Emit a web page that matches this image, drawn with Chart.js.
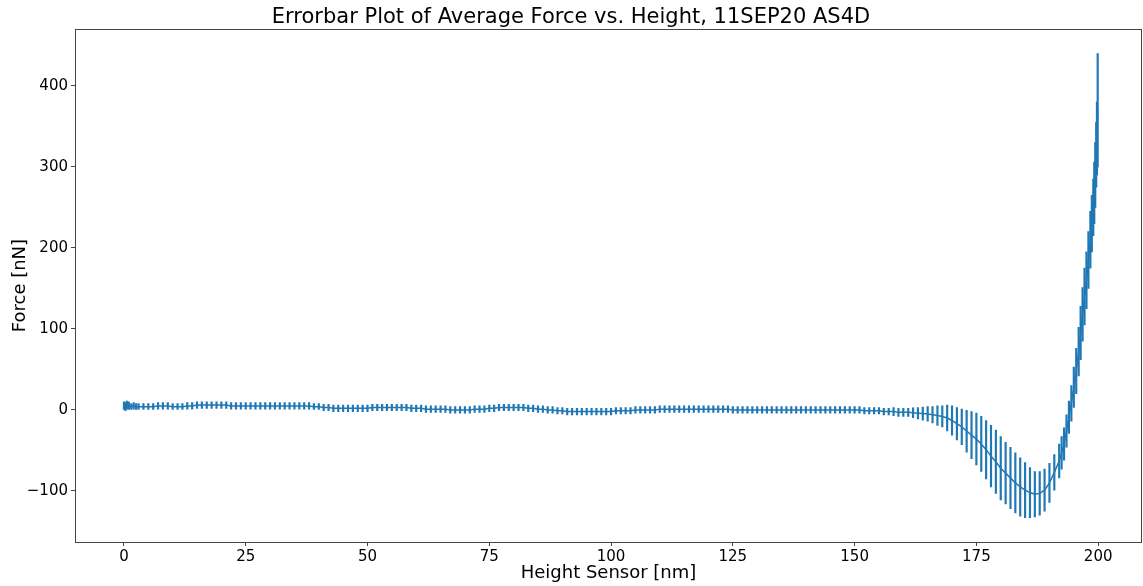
<!DOCTYPE html>
<html>
<head>
<meta charset="utf-8">
<script src="https://cdn.jsdelivr.net/npm/chart.js@4"></script>
<style>
  html, body { margin: 0; padding: 0; background: #fff; }
  #c { display: block; }
</style>
</head>
<body>
<canvas id="c" width="1143" height="586"></canvas>
<script>
// ---- data ----
const heights = [
  0, 0.3, 0.6, 1, 1.5, 2, 2.5, 3,
  4, 5, 6, 7, 8, 9, 10, 11, 12, 13, 14,
  15, 16, 17, 18, 19, 20, 21, 22, 23, 24, 25, 26, 27, 28, 29, 30, 31, 32, 33, 34, 35, 36, 37, 38,
  39, 40, 41, 42, 43, 44, 45, 46, 47,
  48, 49, 50, 51, 52, 53, 54, 55, 56, 57, 58,
  59, 60, 61, 62, 63, 64, 65, 66,
  67, 68, 69, 70, 71, 72, 73,
  74, 75, 76, 77, 78, 79, 80, 81, 82, 83, 84,
  85, 86, 87, 88, 89, 90,
  91, 92, 93, 94, 95, 96, 97, 98, 99, 100, 101, 102, 103, 104,
  105, 106, 107, 108, 109, 110, 111, 112, 113, 114, 115,
  116, 117, 118, 119, 120, 121, 122, 123, 124, 125, 126, 127, 128, 129, 130, 131, 132, 133, 134, 135, 136, 137, 138, 139, 140,
  141, 142, 143, 144, 145, 146, 147, 148, 149, 150, 151, 152,
  153, 154, 155, 156, 157, 158, 159, 160,
  161, 162, 163, 164, 165, 166, 167, 168, 169, 170, 171, 172, 173, 174, 175, 176,
  177, 178, 179, 180, 181, 182, 183, 184, 185, 186, 187, 188, 189, 190, 191, 192,
  192.5, 193, 193.5, 194, 194.5, 195, 195.5, 196, 196.4, 196.8, 197.2, 197.6,
  198, 198.4, 198.7, 199, 199.2, 199.4, 199.6, 199.75, 199.9
];
const forces = [
  5, 4, 6, 5, 4, 5, 4, 4,
  4, 4, 4, 5, 5, 5, 4, 4, 4, 5, 5,
  6, 6, 6, 6, 6, 6, 6, 5, 5, 5, 5, 5, 5, 5, 5, 5, 5, 5, 5, 5, 5, 5, 5, 5,
  4, 4, 3, 3, 2, 2, 2, 2, 2,
  2, 2, 2, 3, 3, 3, 3, 3, 3, 3, 3,
  2, 2, 2, 1, 1, 1, 1, 1,
  0, 0, 0, 0, 0, 1, 1,
  1, 2, 2, 3, 3, 3, 3, 3, 3, 2, 2,
  1, 1, 0, 0, -1, -1,
  -2, -2, -2, -2, -2, -2, -2, -2, -2, -2, -1, -1, -1, -1,
  0, 0, 0, 0, 0, 1, 1, 1, 1, 1, 1,
  1, 1, 1, 1, 1, 1, 1, 1, 1, 0, 0, 0, 0, 0, 0, 0, 0, 0, 0, 0, 0, 0, 0, 0, 0,
  0, 0, 0, 0, 0, 0, 0, 0, 0, 0, 0, -1,
  -1, -1, -1, -2, -2, -2, -3, -3,
  -3, -3.5, -4, -4.5, -5, -6, -7, -8, -10, -13, -17, -21, -26, -31, -36, -42,
  -49, -57, -64, -72, -78, -84, -90, -95, -99, -102, -104, -103, -99, -90, -77, -63,
  -53, -42, -26, -9, 8, 28, 48, 72, 95, 118, 140, 160,
  185, 210, 230, 250, 268, 290, 315, 335, 370
];
const errors = [
  5, 5, 5, 5, 4, 4, 4, 4,
  4, 4, 4, 4, 4, 4, 4, 4, 4, 4, 4,
  4, 4, 4, 4, 4, 4, 4, 4, 4, 4, 4, 4, 4, 4, 4, 4, 4, 4, 4, 4, 4, 4, 4, 4,
  4, 4, 4, 4, 4, 4, 4, 4, 4,
  4, 4, 4, 4, 4, 4, 4, 4, 4, 4, 4,
  4, 4, 4, 4, 4, 4, 4, 4,
  4, 4, 4, 4, 4, 4, 4,
  4, 4, 4, 4, 4, 4, 4, 4, 4, 4, 4,
  4, 4, 4, 4, 4, 4,
  4, 4, 4, 4, 4, 4, 4, 4, 4, 4, 4, 4, 4, 4,
  4, 4, 4, 4, 4, 4, 4, 4, 4, 4, 4,
  4, 4, 4, 4, 4, 4, 4, 4, 4, 4, 4, 4, 4, 4, 4, 4, 4, 4, 4, 4, 4, 4, 4, 4, 4,
  4, 4, 4, 4, 4, 4, 4, 4, 4, 4, 4, 4,
  4, 4, 4, 4, 4, 5, 5, 5,
  5, 6, 7, 8, 9, 10, 12, 13, 16, 18, 20, 22, 26, 29, 32, 34,
  36, 38, 39, 39, 38, 38, 37, 36, 34, 31, 28, 27, 26, 24, 22, 21,
  20, 20, 20, 20, 22, 25, 28, 30, 33, 33, 35, 35,
  35, 35, 35, 35, 38, 40, 40, 45, 70
];
const xTickValues = [0, 25, 50, 75, 100, 125, 150, 175, 200];
const yTickValues = [-100, 0, 100, 200, 300, 400];
const chartTitle = 'Errorbar Plot of Average Force vs. Height, 11SEP20 AS4D';
const xLabel = 'Height Sensor [nm]';
const yLabel = 'Force [nN]';

// ---- build library structures ----
const C0 = '#1f77b4';
const barData = heights.map((h, i) => ({ x: h, y: [forces[i] - errors[i], forces[i] + errors[i]] }));
const lineData = heights.map((h, i) => ({ x: h, y: forces[i] }));

const frame = {
  id: 'frame',
  afterDatasetsDraw(chart) {
    const a = chart.chartArea, ctx = chart.ctx;
    ctx.save();
    ctx.strokeStyle = '#444';
    ctx.lineWidth = 1;
    ctx.strokeRect(Math.round(a.left) + 0.5, Math.round(a.top) + 0.5,
                   Math.round(a.right - a.left) - 1, Math.round(a.bottom - a.top));
    ctx.restore();
  }
};

const font = 'DejaVu Sans';
new Chart(document.getElementById('c'), {
  type: 'bar',
  data: {
    datasets: [
      {
        type: 'bar',
        data: barData,
        backgroundColor: C0,
        borderWidth: 0,
        barThickness: 1.5,
        grouped: false,
        order: 2
      },
      {
        type: 'line',
        data: lineData,
        borderColor: C0,
        borderWidth: 1.5,
        pointRadius: 0,
        tension: 0,
        fill: false,
        order: 1
      }
    ]
  },
  options: {
    responsive: false,
    animation: false,
    devicePixelRatio: 1,
    layout: { padding: { left: 0, right: 1, top: 0, bottom: 0 } },
    plugins: {
      legend: { display: false },
      tooltip: { enabled: false },
      title: {
        display: true,
        text: chartTitle,
        color: '#000',
        font: { family: font, size: 21, weight: 'normal', lineHeight: 1.15 },
        padding: { top: 5, bottom: 0 }
      }
    },
    scales: {
      x: {
        type: 'linear',
        min: -10.05,
        max: 209,
        offset: false,
        afterBuildTicks: s => { s.ticks = xTickValues.map(v => ({ value: v })); },
        afterFit: s => { s.height = 44; },
        grid: { display: true, offset: false, drawOnChartArea: false, drawTicks: true, tickLength: 4, color: '#444' },
        border: { display: false },
        ticks: { color: '#000', font: { family: font, size: 15 }, padding: 2, maxRotation: 0, autoSkip: false },
        title: { display: true, text: xLabel, color: '#000', font: { family: font, size: 18 }, padding: { top: 0, bottom: 2 } }
      },
      y: {
        type: 'linear',
        min: -163,
        max: 470,
        afterBuildTicks: s => { s.ticks = yTickValues.map(v => ({ value: v })); },
        afterFit: s => { s.width = 75; },
        grid: { display: true, offset: false, drawOnChartArea: false, drawTicks: true, tickLength: 4, color: '#444' },
        border: { display: false },
        ticks: {
          color: '#000', font: { family: font, size: 15 }, padding: 3, autoSkip: false,
          callback: v => String(v).replace('-', '\u2212')
        },
        title: { display: true, text: yLabel, color: '#000', font: { family: font, size: 18 }, padding: { top: 10, bottom: 0 } }
      }
    }
  },
  plugins: [frame]
});
</script>
</body>
</html>
